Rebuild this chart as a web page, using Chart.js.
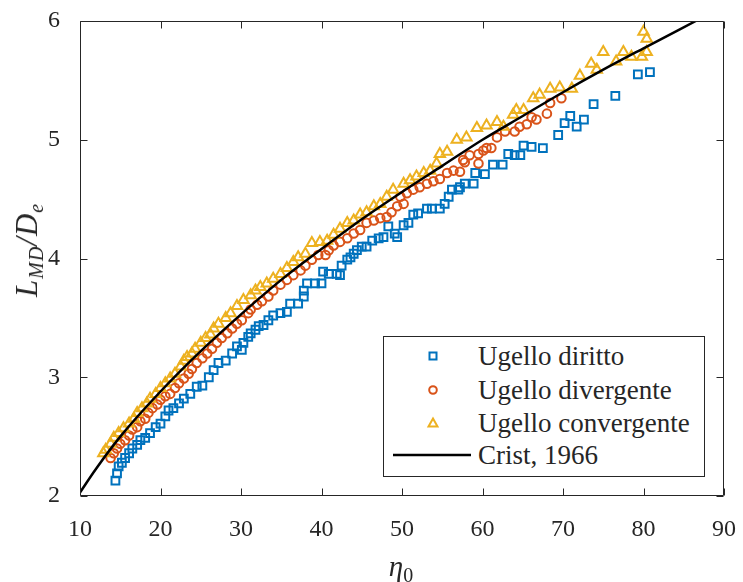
<!DOCTYPE html>
<html>
<head>
<meta charset="utf-8">
<script src="https://cdn.jsdelivr.net/npm/chart.js@4.4.0/dist/chart.umd.min.js"></script>
<style>
  body { margin: 0; background: #fff; }
  #wrap { position: relative; width: 743px; height: 582px; font-family: "Liberation Serif", serif; color: #262626; }
  #plot { position: absolute; left: 0; top: 0; }
  .ytitle { position: absolute; left: 27px; top: 250px; transform: translate(-50%, -50%) rotate(-90deg); font-size: 31px; white-space: nowrap; font-style: italic; letter-spacing: 1px; }
  .xtitle { position: absolute; left: 401px; top: 566px; transform: translate(-50%, -50%); font-size: 29px; white-space: nowrap; font-style: italic; }
  sub { font-size: 20px; vertical-align: -6px; line-height: 0; }
  .up { font-style: normal; }
  #legend { position: absolute; left: 383px; top: 336px; width: 320px; height: 139px; border: 1px solid #262626; background: #fff; }
  .row { position: absolute; left: 0; height: 30px; width: 320px; transform: translateY(-50%); }
  .row svg { position: absolute; left: 0; top: 0; }
  .row span { position: absolute; left: 94px; top: 50%; transform: translateY(-50%); font-size: 27px; white-space: nowrap; }
</style>
</head>
<body>
<div id="wrap">
  <canvas id="plot" width="743" height="582"></canvas>
  <div class="ytitle">L<sub>MD</sub>/D<sub>e</sub></div>
  <div class="xtitle">&eta;<sub class="up">0</sub></div>
  <div id="legend">
    <div class="row" style="top:19px"><svg width="90" height="30"><rect x="45.5" y="11.5" width="7" height="7" fill="none" stroke="#0072BD" stroke-width="2"/></svg><span>Ugello diritto</span></div>
    <div class="row" style="top:53px"><svg width="90" height="30"><circle cx="49" cy="15" r="3.8" fill="none" stroke="#D95319" stroke-width="2"/></svg><span>Ugello divergente</span></div>
    <div class="row" style="top:86px"><svg width="90" height="30"><polygon points="49,10.5 53.5,18.5 44.5,18.5" fill="none" stroke="#EDB120" stroke-width="2"/></svg><span>Ugello convergente</span></div>
    <div class="row" style="top:118px"><svg width="90" height="30"><line x1="9" y1="15" x2="87" y2="15" stroke="#000" stroke-width="2.5"/></svg><span>Crist, 1966</span></div>
  </div>
</div>
<script>
// tick values
var xTicks = [10, 20, 30, 40, 50, 60, 70, 80, 90];
var yTicks = [2, 3, 4, 5, 6];

// Ugello diritto (squares)
var etaDiritto = [14.4, 14.6, 14.8, 15.2, 15.6, 16.1, 16.5, 17.1, 17.5, 18.1, 18.7, 19.4, 20.0, 20.6, 21.0, 21.6, 22.3, 22.9, 23.7, 24.5,
  25.2, 26.0, 26.6, 27.2, 28.1, 28.9, 29.5, 30.1, 30.3, 30.9, 31.2, 31.8, 32.2, 32.8, 33.4, 34.0, 34.9, 35.7, 36.1, 37.1,
  37.8, 37.8, 38.2, 39.2, 40.0, 40.2, 40.9, 41.9, 42.3, 42.5, 43.2, 43.6, 44.0, 44.4, 45.0, 45.6, 46.3, 47.1, 47.7, 48.3,
  49.1, 49.4, 50.2, 50.8, 51.4, 52.0, 53.1, 53.7, 54.7, 55.3, 55.8, 56.2, 57.0, 57.2, 57.8, 58.9, 59.1, 60.3, 61.3, 62.5,
  63.2, 64.0, 64.7, 65.1, 66.1, 67.5, 69.4, 70.2, 70.9, 71.7, 72.6, 73.8, 76.5, 79.3, 80.8];
var ldDiritto = [2.13, 2.19, 2.25, 2.28, 2.32, 2.36, 2.40, 2.43, 2.47, 2.49, 2.53, 2.58, 2.61, 2.67, 2.72, 2.74, 2.78, 2.82, 2.86, 2.92,
  2.93, 3.00, 3.06, 3.12, 3.14, 3.20, 3.26, 3.23, 3.29, 3.34, 3.37, 3.40, 3.43, 3.44, 3.48, 3.52, 3.54, 3.55, 3.62, 3.62,
  3.68, 3.73, 3.79, 3.79, 3.79, 3.89, 3.87, 3.87, 3.86, 3.94, 3.99, 4.01, 4.04, 4.07, 4.10, 4.10, 4.15, 4.17, 4.18, 4.27,
  4.21, 4.18, 4.28, 4.30, 4.37, 4.38, 4.42, 4.42, 4.42, 4.46, 4.52, 4.58, 4.58, 4.60, 4.63, 4.63, 4.72, 4.71, 4.79, 4.79,
  4.88, 4.87, 4.87, 4.95, 4.94, 4.93, 5.04, 5.14, 5.20, 5.11, 5.17, 5.30, 5.37, 5.55, 5.57];

// Ugello divergente (circles)
var etaDiv = [13.8, 14.2, 14.6, 15.0, 15.6, 16.1, 16.5, 17.1, 17.5, 18.1, 18.5, 19.0, 19.6, 20.0, 20.6, 21.2, 21.8, 22.3, 22.9, 23.5,
  23.9, 24.5, 25.2, 25.8, 26.4, 27.0, 27.6, 28.3, 28.9, 29.5, 30.1, 30.9, 31.2, 32.0, 32.6, 33.4, 34.0, 34.9, 35.7, 36.5,
  37.4, 38.0, 38.8, 39.6, 40.5, 40.9, 41.5, 42.3, 43.2, 44.0, 44.8, 45.6, 46.5, 47.3, 48.1, 48.7, 49.4, 49.8, 50.2, 50.6,
  51.4, 52.2, 53.1, 53.9, 54.7, 55.6, 56.4, 57.2, 57.6, 57.8, 58.4, 59.5, 59.5, 60.1, 60.5, 61.1, 61.8, 62.8, 64.0, 64.6,
  65.5, 66.1, 66.7, 68.0, 68.4, 69.8];
var ldDiv = [2.32, 2.36, 2.40, 2.44, 2.47, 2.51, 2.56, 2.58, 2.63, 2.65, 2.70, 2.74, 2.77, 2.81, 2.84, 2.86, 2.91, 2.95, 2.99, 3.03,
  3.07, 3.12, 3.16, 3.20, 3.24, 3.29, 3.33, 3.37, 3.41, 3.45, 3.48, 3.54, 3.57, 3.61, 3.64, 3.68, 3.73, 3.78, 3.82, 3.86,
  3.90, 3.94, 3.99, 4.03, 4.03, 4.07, 4.11, 4.14, 4.17, 4.21, 4.24, 4.30, 4.32, 4.34, 4.35, 4.39, 4.44, 4.52, 4.46, 4.55,
  4.58, 4.60, 4.63, 4.65, 4.67, 4.72, 4.74, 4.73, 4.83, 4.81, 4.87, 4.80, 4.88, 4.91, 4.93, 4.93, 5.02, 5.07, 5.07, 5.11,
  5.13, 5.19, 5.17, 5.22, 5.31, 5.35];

// Ugello convergente (triangles)
var etaConv = [12.9, 13.2, 13.8, 14.2, 14.8, 15.4, 16.1, 16.7, 17.1, 17.7, 18.3, 18.7, 19.4, 20.0, 20.6, 21.2, 21.8, 22.5, 22.9, 23.3,
  23.9, 24.3, 25.0, 25.6, 26.2, 26.6, 27.2, 28.1, 28.7, 29.5, 30.3, 31.2, 31.8, 32.4, 33.2, 34.0, 34.9, 35.7, 36.5, 37.1,
  38.0, 38.8, 39.8, 40.7, 41.5, 42.3, 43.2, 44.0, 44.8, 45.6, 46.5, 47.3, 48.1, 48.9, 50.2, 51.0, 51.8, 52.7, 53.5, 54.3,
  54.7, 55.6, 56.8, 58.0, 59.3, 60.5, 61.8, 62.6, 63.8, 64.2, 65.1, 66.3, 67.1, 68.4, 69.6, 71.1, 72.1, 73.5, 74.2, 75.0,
  76.6, 77.5, 78.5, 79.8, 80.0, 80.4, 80.4];
var ldConv = [2.36, 2.39, 2.44, 2.49, 2.53, 2.57, 2.61, 2.65, 2.70, 2.74, 2.78, 2.82, 2.86, 2.91, 2.95, 2.99, 3.03, 3.09, 3.14, 3.17,
  3.20, 3.24, 3.29, 3.33, 3.36, 3.41, 3.45, 3.50, 3.54, 3.60, 3.65, 3.69, 3.73, 3.76, 3.79, 3.83, 3.87, 3.92, 3.97, 4.01,
  4.04, 4.13, 4.14, 4.15, 4.20, 4.25, 4.30, 4.32, 4.37, 4.39, 4.44, 4.46, 4.52, 4.58, 4.63, 4.66, 4.69, 4.72, 4.74, 4.80,
  4.88, 4.90, 5.00, 5.02, 5.10, 5.12, 5.15, 5.11, 5.21, 5.25, 5.25, 5.35, 5.38, 5.43, 5.44, 5.43, 5.54, 5.64, 5.59, 5.74,
  5.66, 5.74, 5.70, 5.70, 5.91, 5.85, 5.74];

// Crist, 1966 curve
var etaCrist = [10, 12, 15, 20, 25, 30, 35, 40, 45, 50, 55, 60, 65, 70, 75, 80, 86.5];
var ldCrist = [2.03, 2.23, 2.50, 2.88, 3.22, 3.53, 3.82, 4.08, 4.33, 4.56, 4.78, 5.00, 5.20, 5.40, 5.59, 5.77, 6.00];

function pts(xs, ys) {
  return xs.map(function (v, i) { return { x: v, y: ys[i] }; });
}

var axisCol = "#262626";

// MATLAB style box with inward ticks on all four sides
var boxPlugin = {
  id: "box",
  afterDatasetsDraw: function (chart) {
    var ctx = chart.ctx, a = chart.chartArea, sx = chart.scales.x, sy = chart.scales.y;
    var L = Math.round(a.left) + 0.5, R = Math.round(a.right) - 0.5;
    var T = Math.round(a.top) + 0.5, B = Math.round(a.bottom) - 0.5;
    ctx.save();
    ctx.strokeStyle = axisCol;
    ctx.lineWidth = 1;
    ctx.beginPath();
    ctx.rect(L, T, R - L, B - T);
    xTicks.forEach(function (t) {
      var px = Math.round(sx.getPixelForValue(t)) + 0.5;
      ctx.moveTo(px, B); ctx.lineTo(px, B - 7);
      ctx.moveTo(px, T); ctx.lineTo(px, T + 7);
    });
    yTicks.forEach(function (t) {
      var py = Math.round(sy.getPixelForValue(t)) + 0.5;
      ctx.moveTo(L, py); ctx.lineTo(L + 7, py);
      ctx.moveTo(R, py); ctx.lineTo(R - 7, py);
    });
    ctx.stroke();
    ctx.restore();
  }
};

// fixed axis sizes, no extra padding for overhanging labels
function fixScale(size) {
  return function (s) {
    if (s.isHorizontal()) s.height = size; else s.width = size;
    s.paddingLeft = 0; s.paddingRight = 0; s.paddingTop = 0; s.paddingBottom = 0;
  };
}

var tickFont = { family: "Liberation Serif", size: 24 };

new Chart(document.getElementById("plot"), {
  type: "scatter",
  data: {
    datasets: [
      {
        label: "Crist, 1966",
        data: pts(etaCrist, ldCrist),
        showLine: true,
        borderColor: "#000000",
        borderWidth: 2.5,
        pointRadius: 0,
        cubicInterpolationMode: "monotone",
        order: 0
      },
      {
        label: "Ugello convergente",
        data: pts(etaConv, ldConv),
        pointStyle: "triangle",
        pointRadius: 6,
        borderColor: "#EDB120",
        backgroundColor: "rgba(0,0,0,0)",
        borderWidth: 2,
        order: 1
      },
      {
        label: "Ugello divergente",
        data: pts(etaDiv, ldDiv),
        pointStyle: "circle",
        pointRadius: 4.3,
        borderColor: "#D95319",
        backgroundColor: "rgba(0,0,0,0)",
        borderWidth: 2,
        order: 2
      },
      {
        label: "Ugello diritto",
        data: pts(etaDiritto, ldDiritto),
        pointStyle: "rect",
        pointRadius: 5.5,
        borderColor: "#0072BD",
        backgroundColor: "rgba(0,0,0,0)",
        borderWidth: 2,
        order: 3
      }
    ]
  },
  options: {
    responsive: false,
    animation: false,
    events: [],
    layout: { autoPadding: false, padding: { top: 21, right: 19, left: 0, bottom: 0 } },
    scales: {
      x: {
        type: "linear",
        min: 10,
        max: 90,
        afterBuildTicks: function (s) { s.ticks = xTicks.map(function (v) { return { value: v }; }); },
        afterFit: fixScale(86),
        grid: { display: false },
        border: { display: false },
        ticks: { font: tickFont, color: axisCol, padding: 11, maxRotation: 0 }
      },
      y: {
        type: "linear",
        min: 2,
        max: 6,
        afterBuildTicks: function (s) { s.ticks = yTicks.map(function (v) { return { value: v }; }); },
        afterFit: fixScale(80),
        grid: { display: false },
        border: { display: false },
        ticks: { font: tickFont, color: axisCol, padding: 12 }
      }
    },
    plugins: {
      legend: { display: false },
      tooltip: { enabled: false }
    }
  },
  plugins: [boxPlugin]
});
</script>
</body>
</html>
